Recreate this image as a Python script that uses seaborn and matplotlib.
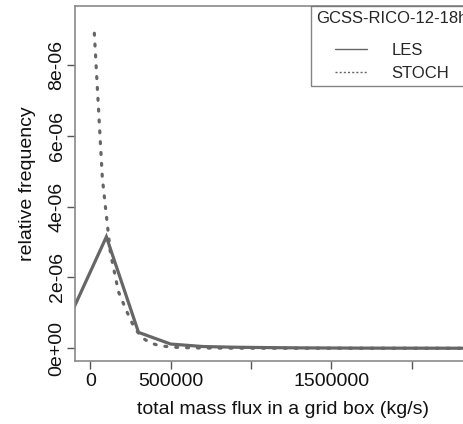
import numpy as np
import pandas as pd
import matplotlib
matplotlib.use("Agg")
import matplotlib.pyplot as plt
import seaborn as sns
from matplotlib.lines import Line2D

# ---- data ----
les_x = [-100000, 100000, 300000, 500000, 700000, 900000, 1100000, 1300000,
         1500000, 1700000, 1900000, 2100000, 2300000, 2500000]
les_y = [1.17e-6, 3.15e-6, 0.45e-6, 0.12e-6, 0.05e-6, 0.03e-6, 0.02e-6, 0.012e-6,
         0.008e-6, 0.005e-6, 0.004e-6, 0.003e-6, 0.002e-6, 0.002e-6]

stoch_x = [25000, 75000, 125000, 175000, 225000, 275000, 325000, 375000, 425000,
           475000, 525000, 575000, 625000, 675000, 725000, 800000, 900000, 1000000,
           1200000, 1500000, 2000000, 2500000]
stoch_y = [8.9e-6, 4.8e-6, 2.7e-6, 1.6e-6, 1.06e-6, 0.57e-6, 0.29e-6, 0.15e-6, 0.08e-6,
           0.05e-6, 0.03e-6, 0.02e-6, 0.015e-6, 0.01e-6, 0.008e-6, 0.006e-6, 0.004e-6,
           0.003e-6, 0.002e-6, 0.001e-6, 0.0005e-6, 0.0003e-6]

x_ticks = [0, 500000, 1000000, 1500000, 2000000]
x_tick_labels = ["0", "500000", "", "1500000", ""]
y_ticks = [0, 2e-6, 4e-6, 6e-6, 8e-6]
y_tick_labels = ["0e+00", "2e-06", "4e-06", "6e-06", "8e-06"]

legend_title = "GCSS-RICO-12-18h"
series_names = ["LES", "STOCH"]
x_label = "total mass flux in a grid box (kg/s)"
y_label = "relative frequency"

# ---- plot ----
sns.set_style("white")
plt.rcParams["font.family"] = ["Liberation Sans", "DejaVu Sans"]

W, H = 464, 424
fig = plt.figure(figsize=(W / 100, H / 100), dpi=100)
left_px, right_px, top_px, bot_px = 75, 492, 6, 361
ax = fig.add_axes([left_px / W, 1 - bot_px / H, (right_px - left_px) / W,
                   (bot_px - top_px) / H])

line_col = "#666666"
sns.lineplot(x=les_x, y=les_y, ax=ax, color=line_col, lw=2.3, legend=False,
             solid_joinstyle="miter")
sns.lineplot(x=stoch_x, y=stoch_y, ax=ax, color=line_col, lw=2.3, legend=False,
             linestyle=(0, (0.6, 2.8)), dash_capstyle="round")

ax.set_xlim(-95300, 2500000)
ax.set_ylim(-0.359e-6, 9.67e-6)

ax.set_xticks(x_ticks)
ax.set_xticklabels(x_tick_labels)
ax.set_yticks(y_ticks)
ax.set_yticklabels(y_tick_labels, rotation=90, va="center")

ax.tick_params(axis="both", direction="out", length=5.8, width=1, color="#555555",
               labelsize=14, labelcolor="#111111")
ax.tick_params(axis="x", bottom=True, pad=3)
ax.tick_params(axis="y", left=True, pad=1)

for s in ax.spines.values():
    s.set_color("#8a8a8a")
    s.set_linewidth(1.2)

ax.set_xlabel(x_label, fontsize=14, color="#111111", labelpad=8)
ax.set_ylabel(y_label, fontsize=14, color="#111111", labelpad=9)

handles = [Line2D([], [], color=line_col, lw=1.0),
           Line2D([], [], color=line_col, lw=1.0, linestyle=(0, (1.5, 1.5)))]
leg = ax.legend(handles, series_names, title=legend_title, fontsize=12,
                title_fontsize=12, loc="upper left",
                bbox_to_anchor=(311.5 / W, 1 - 6 / H), bbox_transform=fig.transFigure,
                frameon=True, fancybox=False, borderaxespad=0, handlelength=1.9,
                handletextpad=1.5, labelspacing=0.5, borderpad=0.3)
leg.get_frame().set_edgecolor("#666666")
leg.get_frame().set_linewidth(1.0)
leg._legend_box.sep = 12

fig.savefig("out.png", dpi=100)
